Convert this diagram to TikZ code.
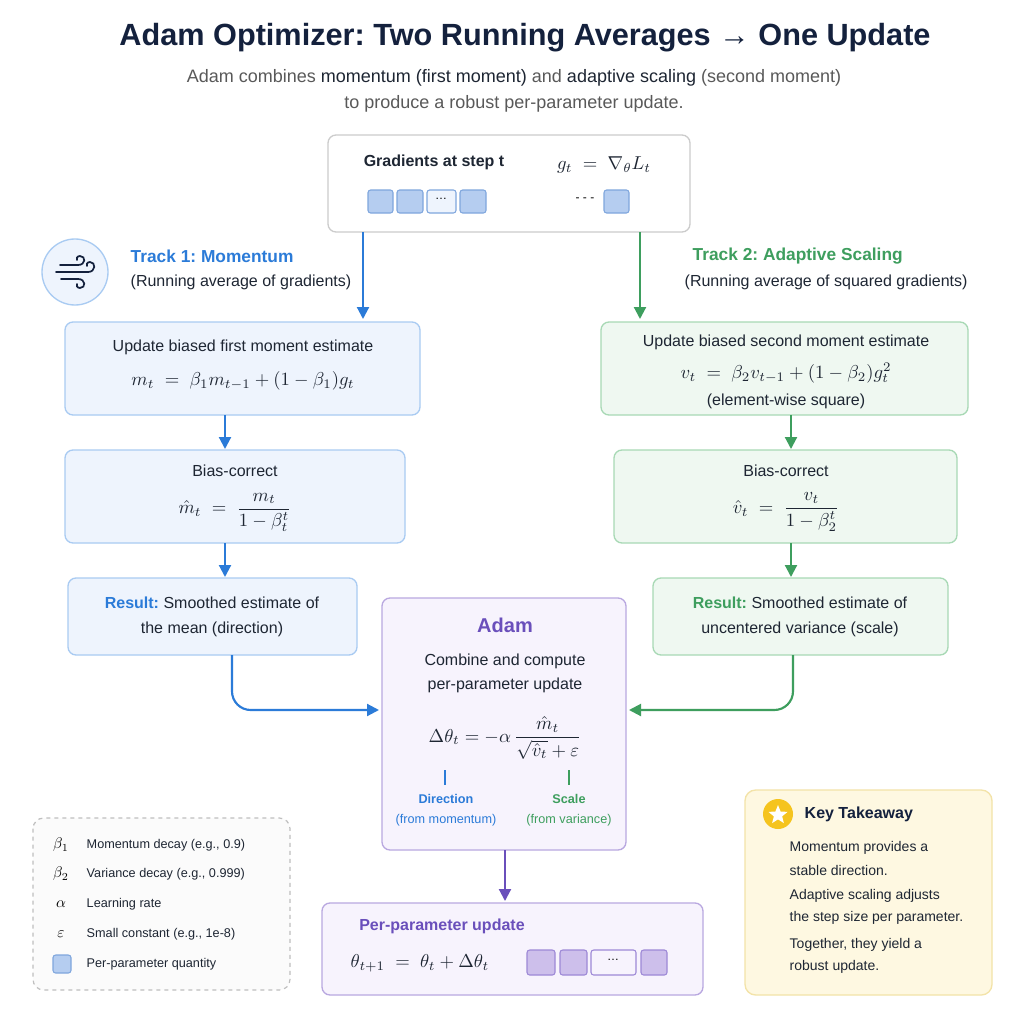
\documentclass[tikz,border=0pt]{standalone}
\usepackage{amsmath}
\usepackage{fontspec}
\setmainfont{Liberation Sans}
\usetikzlibrary{shapes.geometric,arrows.meta}
\frenchspacing
\newcommand\mth[1]{\scalebox{1.4}{$#1$}}
\newcommand\lsym[1]{\scalebox{1.15}{$#1$}}
\definecolor{navy}{HTML}{14213D}
\definecolor{bl}{HTML}{2B7BD8}
\definecolor{blf}{HTML}{EEF4FD}
\definecolor{blb}{HTML}{A9CBF2}
\definecolor{gr}{HTML}{3E9E5E}
\definecolor{grf}{HTML}{EFF8F1}
\definecolor{grb}{HTML}{A8D9B5}
\definecolor{pu}{HTML}{6A4FBB}
\definecolor{puf}{HTML}{F7F3FD}
\definecolor{pub}{HTML}{B9A8E0}
\definecolor{sq}{HTML}{B5CDF0}
\definecolor{sqb}{HTML}{7FA6DD}
\definecolor{psq}{HTML}{CDBFEB}
\definecolor{psqb}{HTML}{9D88D6}
\definecolor{yf}{HTML}{FEF8E1}
\definecolor{yb}{HTML}{F3E3A8}
\definecolor{txt}{HTML}{1E2633}
\tikzset{
  box/.style={rounded corners=6pt,line width=1pt},
  bbox/.style={box,draw=blb,fill=blf},
  gbox/.style={box,draw=grb,fill=grf},
  t/.style={font=\fontsize{12}{14}\selectfont,text=txt,align=center},
  m/.style={text=txt},
  ar/.style={line width=1.6pt,-{Triangle[length=9pt,width=9pt]}},
  sqr/.style={draw=sqb,fill=sq,rounded corners=2pt,line width=0.8pt},
  psqr/.style={draw=psqb,fill=psq,rounded corners=2pt,line width=0.8pt},
  lg/.style={font=\fontsize{9.5}{11}\selectfont,text=txt,anchor=west},
  kt/.style={font=\fontsize{10.5}{12}\selectfont,text=txt,anchor=west},
}
\begin{document}
\begin{tikzpicture}[x=0.75pt,y=-0.75pt]
\useasboundingbox[fill=white] (0,0) rectangle (1024,1024);
% title
\node[font=\fontsize{23}{26}\selectfont\bfseries,text=navy] (title) at (525,38) {Adam Optimizer: Two Running Averages → One Update};
\node[font=\fontsize{13.5}{20}\selectfont,text=black!65,align=center] (sub) at (514,91) {Adam combines \textcolor{txt}{momentum (first moment)} and \textcolor{txt}{adaptive scaling} (second moment)\\to produce a robust per-parameter update.};
% top box
\draw[box,draw=black!20,fill=white] (328,135) rectangle (690,232);
\node[t,font=\fontsize{12}{14}\selectfont\bfseries] (gl) at (434,162) {Gradients at step t};
\node[m] (gf) at (604,165) {\mth{g_t \;=\; \nabla_\theta L_t}};
\draw[sqr] (368,190) rectangle (393,213);
\draw[sqr] (397,190) rectangle (423,213);
\draw[sqr,fill=blf] (427,190) rectangle (456,213);
\node[font=\small] (d1) at (441,199) {\dots};
\draw[sqr] (460,190) rectangle (486,213);
\node[font=\small] (d2) at (585,200) {- - -};
\draw[sqr] (604,190) rectangle (629,213);
\coordinate (tl) at (363,232); \coordinate (tr) at (640,232);
% icon
\draw[draw=blb,fill=blf,line width=1pt] (75,272) circle (33);
\begin{scope}[line width=1.3pt,draw=navy,line cap=round]
\draw (60,265) -- (78,265) .. controls (86,265) and (86,256) .. (80,256) .. controls (77,256) and (76,259) .. (77,260);
\draw (56,272) -- (88,272) .. controls (96,272) and (96,262) .. (90,262) .. controls (87,262) and (86,265) .. (87,266);
\draw (61,279) -- (78,279) .. controls (86,279) and (86,288) .. (80,288) .. controls (77,288) and (76,285) .. (77,284);
\end{scope}
% tracks
\node[font=\fontsize{13}{15}\selectfont\bfseries,text=bl,anchor=west] (t1) at (126,256) {Track 1: Momentum};
\node[t,anchor=west] (t1s) at (126,282) {(Running average of gradients)};
\node[font=\fontsize{13}{15}\selectfont\bfseries,text=gr,anchor=west] (t2) at (688,256) {Track 2: Adaptive Scaling};
\node[t,anchor=west] (t2s) at (680,282) {(Running average of squared gradients)};
% left column
\draw[bbox] (65,322) rectangle (420,415);
\node[t] (l1a) at (243,347) {Update biased first moment estimate};
\node[m] (l1b) at (243,381) {\mth{m_t \;=\; \beta_1 m_{t-1} + (1-\beta_1)g_t}};
\draw[bbox] (65,450) rectangle (405,543);
\node[t] (l2a) at (235,471) {Bias-correct};
\node[m] (l2b) at (235,512) {\mth{\hat m_t \;=\; \dfrac{m_t}{1-\beta_t^t}}};
\draw[bbox] (68,578) rectangle (357,655);
\node[t,font=\fontsize{12}{19}\selectfont] (l3) at (212,617) {\textcolor{bl}{\bfseries Result:} Smoothed estimate of\\the mean (direction)};
% right column
\draw[gbox] (601,322) rectangle (968,415);
\node[t] (r1a) at (786,342) {Update biased second moment estimate};
\node[m] (r1b) at (786,373) {\mth{v_t \;=\; \beta_2 v_{t-1} + (1-\beta_2)g_t^2}};
\node[t] (r1c) at (786,401) {(element-wise square)};
\draw[gbox] (614,450) rectangle (957,543);
\node[t] (r2a) at (786,471) {Bias-correct};
\node[m] (r2b) at (786,512) {\mth{\hat v_t \;=\; \dfrac{v_t}{1-\beta_2^t}}};
\draw[gbox] (653,578) rectangle (948,655);
\node[t,font=\fontsize{12}{19}\selectfont] (r3) at (800,617) {\textcolor{gr}{\bfseries Result:} Smoothed estimate of\\uncentered variance (scale)};
% adam
\draw[box,draw=pub,fill=puf] (382,598) rectangle (626,850);
\node[font=\fontsize{15}{17}\selectfont\bfseries,text=pu] (adam) at (505,625) {Adam};
\node[t,font=\fontsize{12}{18}\selectfont] (ac) at (505,673) {Combine and compute\\per-parameter update};
\node[m] (af) at (505,738) {\mth{\Delta\theta_t = -\alpha\,\dfrac{\hat m_t}{\sqrt{\hat v_t}+\varepsilon}}};
\draw[bl,line width=1pt] (445,770) -- (445,785);
\draw[gr,line width=1pt] (569,770) -- (569,785);
\node[font=\fontsize{9.5}{15}\selectfont,text=bl,align=center] (dir) at (446,810) {\textbf{Direction}\\(from momentum)};
\node[font=\fontsize{9.5}{15}\selectfont,text=gr,align=center] (sc) at (569,810) {\textbf{Scale}\\(from variance)};
% output
\draw[box,draw=pub,fill=puf] (322,903) rectangle (703,995);
\node[font=\fontsize{12}{14}\selectfont\bfseries,text=pu] (pl) at (442,926) {Per-parameter update};
\node[m] (pf) at (420,963) {\mth{\theta_{t+1} \;=\; \theta_t + \Delta\theta_t}};
\draw[psqr] (527,950) rectangle (555,975);
\draw[psqr] (560,950) rectangle (587,975);
\draw[psqr,fill=puf] (591,950) rectangle (636,975);
\node[font=\small] (d3) at (613,960) {\dots};
\draw[psqr] (641,950) rectangle (667,975);
% arrows
\draw[ar,bl] (tl) -- (363,319);
\draw[ar,gr] (tr) -- (640,319);
\draw[ar,bl] (225,415) -- (225,449);
\draw[ar,bl] (225,543) -- (225,577);
\draw[ar,gr] (791,415) -- (791,449);
\draw[ar,gr] (791,543) -- (791,577);
\draw[ar,bl,rounded corners=14pt] (232,655) -- (232,710) -- (379,710);
\draw[ar,gr,rounded corners=14pt] (793,655) -- (793,710) -- (629,710);
\draw[ar,pu] (505,850) -- (505,901);
% legend
\draw[rounded corners=8pt,draw=black!25,dashed,fill=black!1.5,line width=0.9pt] (33,818) rectangle (290,990);
\node (s1) at (61,845) {\lsym{\beta_1}};
\node[lg] (g1) at (82,845) {Momentum decay (e.g., 0.9)};
\node (s2) at (61,874) {\lsym{\beta_2}};
\node[lg] (g2) at (82,874) {Variance decay (e.g., 0.999)};
\node (s3) at (61,904) {\lsym{\alpha}};
\node[lg] (g3) at (82,904) {Learning rate};
\node (s4) at (61,934) {\lsym{\varepsilon}};
\node[lg] (g4) at (82,934) {Small constant (e.g., 1e-8)};
\draw[sqr] (53,955) rectangle (71,973);
\node[lg] (g5) at (82,964) {Per-parameter quantity};
% takeaway
\draw[rounded corners=8pt,draw=yb,fill=yf,line width=1pt] (745,790) rectangle (992,995);
\fill[color={rgb,255:red,245;green,196;blue,30}] (778,814) circle (15);
\node[star,star points=5,star point ratio=2.3,fill=white,inner sep=0pt,minimum size=15pt] (star) at (778,815) {};
\node[font=\fontsize{12}{14}\selectfont\bfseries,text=navy,anchor=west] (kt0) at (800,814) {Key Takeaway};
\node[kt] (k1) at (785,848) {Momentum provides a};
\node[kt] (k2) at (785,870) {stable direction.};
\node[kt] (k3) at (785,896) {Adaptive scaling adjusts};
\node[kt] (k4) at (785,918) {the step size per parameter.};
\node[kt] (k5) at (785,945) {Together, they yield a};
\node[kt] (k6) at (785,967) {robust update.};
\end{tikzpicture}
\end{document}
